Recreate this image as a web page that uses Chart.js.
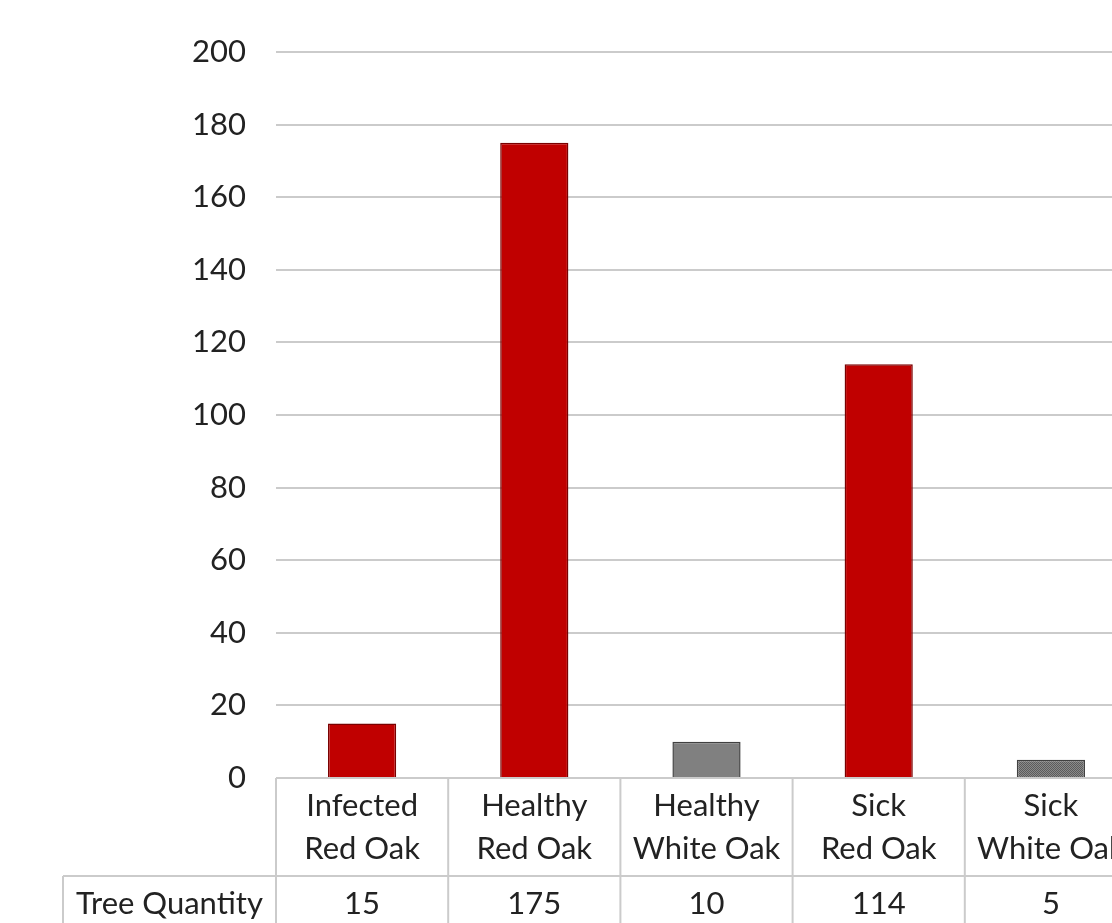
<!DOCTYPE html>
<html>
<head>
<meta charset="utf-8">
<script src="https://cdn.jsdelivr.net/npm/chart.js@4.4.1/dist/chart.umd.min.js"></script>
<style>
  html, body { margin: 0; padding: 0; background: #fff; overflow: hidden; }
  #wrap { width: 1150px; height: 923px; position: relative; }
</style>
</head>
<body>
<div id="wrap"><canvas id="chart"></canvas></div>
<script>
// ─── Data ─────────────────────────────────────────────────────────────────────
const categories = [
    ['Infected', 'Red Oak'],
    ['Healthy', 'Red Oak'],
    ['Healthy', 'White Oak'],
    ['Sick', 'Red Oak'],
    ['Sick', 'White Oak'],
];
const seriesName = 'Tree Quantity';
const treeQuantity = [15, 175, 10, 114, 5];
const yMin = 0, yMax = 200, yStep = 20;

// ─── Style ────────────────────────────────────────────────────────────────────
const FONT = 'Lato, "Open Sans", sans-serif';
const TEXT = '#222222';
const GRID = '#cbcbcb';

// stippled gray for the last bar
function stipple() {
    const c = document.createElement('canvas');
    c.width = 2; c.height = 2;
    const g = c.getContext('2d');
    g.fillStyle = '#8a8a8a'; g.fillRect(0, 0, 2, 2);
    g.fillStyle = '#5c5c5c'; g.fillRect(0, 0, 1, 1); g.fillRect(1, 1, 1, 1);
    return g.createPattern(c, 'repeat');
}

const fills = ['#c00000', '#c00000', '#808080', '#c00000', stipple()];
const borders = ['#7a0000', '#7a0000', '#404040', '#7a0000', '#404040'];

// ─── Data table under the plot ────────────────────────────────────────────────
const dataTable = {
    id: 'dataTable',
    afterDraw(chart) {
        const { ctx, chartArea: a, scales: { x } } = chart;
        const n = categories.length;
        const step = (a.right - a.left) / n;
        const rowSplit = a.bottom + 98;
        const bottom = chart.height + 5;
        const labelLeft = a.left - 213;

        ctx.save();
        ctx.strokeStyle = GRID;
        ctx.lineWidth = 2;
        ctx.beginPath();
        // header row top (axis line)
        ctx.moveTo(a.left, a.bottom); ctx.lineTo(a.right, a.bottom);
        // row separator
        ctx.moveTo(labelLeft, rowSplit); ctx.lineTo(a.right, rowSplit);
        // column separators
        for (let i = 0; i <= n; i++) {
            const px = a.left + i * step;
            ctx.moveTo(px, a.bottom); ctx.lineTo(px, bottom);
        }
        ctx.moveTo(labelLeft, rowSplit); ctx.lineTo(labelLeft, bottom);
        ctx.stroke();

        ctx.fillStyle = TEXT;
        ctx.font = '31px ' + FONT;
        ctx.textAlign = 'center';
        ctx.textBaseline = 'middle';
        categories.forEach((lines, i) => {
            const cx = x.getPixelForValue(i);
            lines.forEach((t, j) => ctx.fillText(t, cx, a.bottom + 28 + j * 43));
            ctx.fillText(String(treeQuantity[i]), cx, a.bottom + 126);
        });
        ctx.fillText(seriesName, (labelLeft + a.left) / 2, a.bottom + 126);
        ctx.restore();
    }
};

new Chart(document.getElementById('chart'), {
    type: 'bar',
    data: {
        labels: categories,
        datasets: [{
            label: seriesName,
            data: treeQuantity,
            backgroundColor: fills,
            borderColor: borders,
            borderWidth: 1.5,
            categoryPercentage: 0.4,
            barPercentage: 0.99,
        }]
    },
    options: {
        responsive: true,
        maintainAspectRatio: false,
        animation: false,
        layout: { padding: { top: 52, right: 13, bottom: 145, left: 0 } },
        scales: {
            x: { display: false },
            y: {
                min: yMin,
                max: yMax,
                ticks: {
                    stepSize: yStep,
                    padding: 30,
                    color: TEXT,
                    font: { family: FONT, size: 31 },
                },
                grid: { color: GRID, lineWidth: 2, drawTicks: false },
                border: { display: false },
                afterFit: (s) => { s.width = 276; },
            }
        },
        plugins: {
            legend: { display: false },
            tooltip: { enabled: false },
        }
    },
    plugins: [dataTable]
});
</script>
</body>
</html>
